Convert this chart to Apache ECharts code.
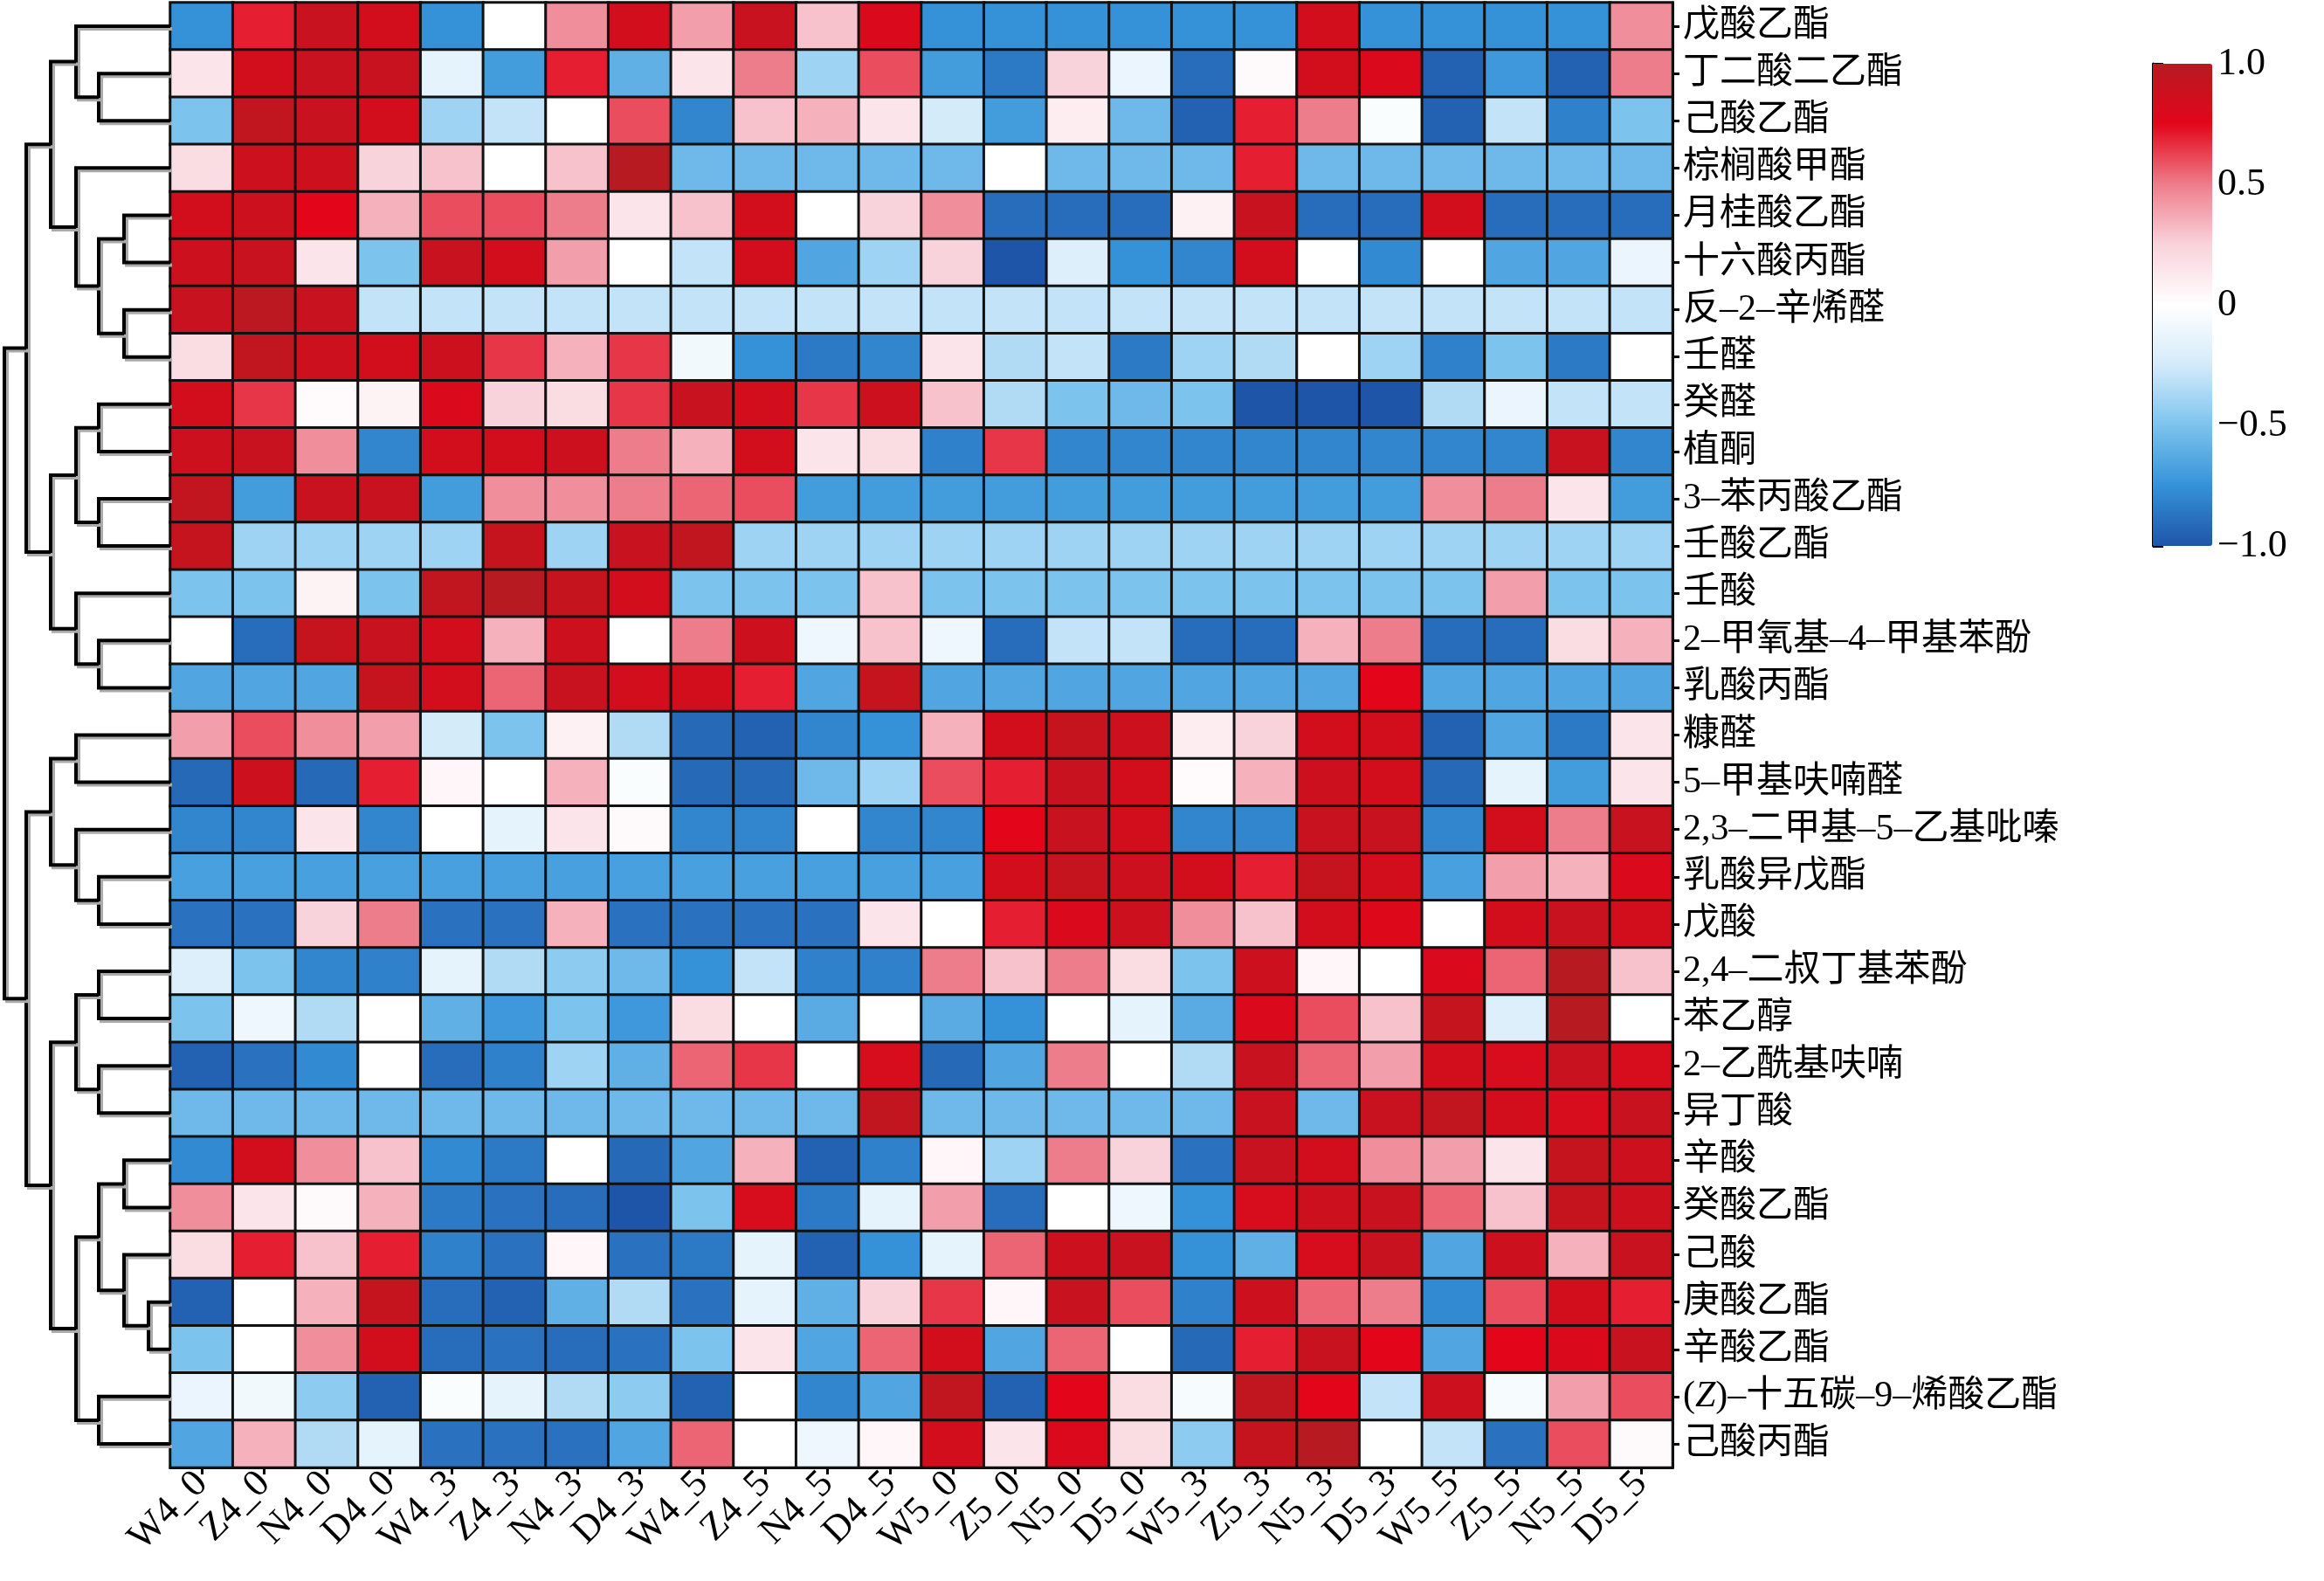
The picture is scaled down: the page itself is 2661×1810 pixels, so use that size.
<!DOCTYPE html>
<html><head><meta charset="utf-8">
<script src="https://cdn.jsdelivr.net/npm/echarts@6/dist/echarts.min.js"></script>
<style>html,body{margin:0;padding:0;background:#fff}#c{width:2661px;height:1810px}</style>
</head><body><div id="c"></div>
<script>
const columns = ['W4_0','Z4_0','N4_0','D4_0','W4_3','Z4_3','N4_3','D4_3','W4_5','Z4_5','N4_5','D4_5','W5_0','Z5_0','N5_0','D5_0','W5_3','Z5_3','N5_3','D5_3','W5_5','Z5_5','N5_5','D5_5'];
const rows = ['戊酸乙酯','丁二酸二乙酯','己酸乙酯','棕榈酸甲酯','月桂酸乙酯','十六酸丙酯','反–2–辛烯醛','壬醛','癸醛','植酮','3–苯丙酸乙酯','壬酸乙酯','壬酸','2–甲氧基–4–甲基苯酚','乳酸丙酯','糠醛','5–甲基呋喃醛','2,3–二甲基–5–乙基吡嗪','乳酸异戊酯','戊酸','2,4–二叔丁基苯酚','苯乙醇','2–乙酰基呋喃','异丁酸','辛酸','癸酸乙酯','己酸','庚酸乙酯','辛酸乙酯','(Z)–十五碳–9–烯酸乙酯','己酸丙酯'];
const values = [
[-0.75,0.7,0.9,0.85,-0.75,0,0.45,0.85,0.4,0.9,0.3,0.8, -0.75,-0.75,-0.75,-0.75,-0.75,-0.75,0.85,-0.75,-0.75,-0.75,-0.75,0.45],
[0.15,0.85,0.9,0.9,-0.15,-0.7,0.7,-0.6,0.15,0.5,-0.4,0.6, -0.7,-0.85,0.25,-0.12,-0.9,0.03,0.85,0.8,-0.95,-0.72,-0.95,0.5],
[-0.5,0.95,0.9,0.85,-0.4,-0.3,0,0.6,-0.8,0.3,0.35,0.15, -0.25,-0.7,0.1,-0.55,-0.95,0.7,0.5,-0.03,-0.95,-0.3,-0.82,-0.5],
[0.2,0.88,0.88,0.25,0.3,0,0.3,1.0,-0.55,-0.55,-0.55,-0.55, -0.55,0,-0.55,-0.55,-0.55,0.7,-0.55,-0.55,-0.55,-0.55,-0.55,-0.55],
[0.85,0.88,0.75,0.35,0.6,0.6,0.5,0.15,0.3,0.85,0,0.25, 0.45,-0.9,-0.9,-0.9,0.08,0.9,-0.9,-0.9,0.85,-0.9,-0.9,-0.9],
[0.88,0.9,0.15,-0.5,0.9,0.85,0.4,0,-0.3,0.85,-0.65,-0.4, 0.25,-1.0,-0.2,-0.75,-0.8,0.85,0,-0.78,0,-0.65,-0.65,-0.12],
[0.9,0.98,0.9,-0.3,-0.3,-0.3,-0.3,-0.3,-0.3,-0.3,-0.3,-0.3, -0.3,-0.3,-0.3,-0.3,-0.3,-0.3,-0.3,-0.3,-0.3,-0.3,-0.3,-0.3],
[0.2,0.95,0.88,0.85,0.88,0.65,0.35,0.65,-0.08,-0.75,-0.85,-0.8, 0.15,-0.35,-0.3,-0.85,-0.4,-0.35,0,-0.4,-0.82,-0.5,-0.85,0],
[0.85,0.65,0.02,0.07,0.8,0.25,0.2,0.65,0.9,0.85,0.65,0.88, 0.3,-0.35,-0.5,-0.55,-0.5,-1.0,-1.0,-1.0,-0.35,-0.12,-0.3,-0.3],
[0.88,0.9,0.45,-0.8,0.85,0.85,0.88,0.5,0.35,0.85,0.15,0.2, -0.82,0.65,-0.8,-0.8,-0.8,-0.8,-0.8,-0.8,-0.8,-0.8,0.9,-0.8],
[0.95,-0.7,0.9,0.9,-0.7,0.45,0.45,0.5,0.55,0.6,-0.7,-0.7, -0.7,-0.7,-0.7,-0.7,-0.7,-0.7,-0.7,-0.7,0.45,0.5,0.15,-0.7],
[0.92,-0.4,-0.4,-0.4,-0.4,0.92,-0.4,0.9,0.95,-0.4,-0.4,-0.4, -0.4,-0.4,-0.4,-0.4,-0.4,-0.4,-0.4,-0.4,-0.4,-0.4,-0.4,-0.4],
[-0.5,-0.5,0.07,-0.5,0.95,1.0,0.92,0.85,-0.5,-0.5,-0.5,0.3, -0.5,-0.5,-0.5,-0.5,-0.5,-0.5,-0.5,-0.5,-0.5,0.4,-0.5,-0.5],
[0,-0.9,0.92,0.9,0.85,0.35,0.88,0,0.5,0.88,-0.1,0.3, -0.1,-0.9,-0.3,-0.3,-0.9,-0.9,0.35,0.5,-0.9,-0.9,0.2,0.35],
[-0.65,-0.65,-0.65,0.92,0.85,0.55,0.9,0.85,0.85,0.7,-0.65,0.92, -0.65,-0.65,-0.65,-0.65,-0.65,-0.65,-0.65,0.75,-0.65,-0.65,-0.65,-0.65],
[0.4,0.6,0.45,0.4,-0.25,-0.5,0.08,-0.35,-0.92,-0.95,-0.8,-0.75, 0.35,0.85,0.92,0.88,0.1,0.25,0.85,0.85,-0.95,-0.65,-0.85,0.15],
[-0.92,0.88,-0.92,0.7,0.05,0,0.35,-0.03,-0.92,-0.92,-0.55,-0.4, 0.6,0.7,0.9,0.85,0.02,0.35,0.88,0.85,-0.92,-0.15,-0.7,0.15],
[-0.8,-0.8,0.15,-0.8,0,-0.15,0.15,0.03,-0.8,-0.8,0,-0.8, -0.8,0.75,0.9,0.85,-0.8,-0.8,0.9,0.9,-0.8,0.85,0.5,0.9],
[-0.68,-0.68,-0.68,-0.68,-0.68,-0.68,-0.68,-0.68,-0.68,-0.68,-0.68,-0.68, -0.68,0.85,0.92,0.88,0.85,0.7,0.92,0.85,-0.68,0.4,0.35,0.8],
[-0.88,-0.88,0.25,0.5,-0.88,-0.88,0.35,-0.88,-0.88,-0.88,-0.88,0.15, 0,0.7,0.8,0.88,0.45,0.3,0.85,0.78,0,0.85,0.9,0.85],
[-0.2,-0.5,-0.8,-0.82,-0.15,-0.35,-0.45,-0.55,-0.75,-0.3,-0.82,-0.82, 0.5,0.3,0.5,0.2,-0.5,0.88,0.05,0,0.8,0.55,1.0,0.3],
[-0.5,-0.1,-0.35,0,-0.6,-0.72,-0.5,-0.72,0.2,0,-0.62,0, -0.62,-0.75,0,-0.15,-0.62,0.8,0.6,0.3,0.92,-0.2,1.0,0],
[-0.95,-0.88,-0.78,0,-0.9,-0.82,-0.4,-0.6,0.55,0.65,0,0.82, -0.92,-0.65,0.5,0,-0.35,0.9,0.55,0.4,0.85,0.82,0.9,0.82],
[-0.55,-0.55,-0.55,-0.55,-0.55,-0.55,-0.55,-0.55,-0.55,-0.55,-0.55,0.95, -0.55,-0.55,-0.55,-0.55,-0.55,0.9,-0.55,0.9,0.95,0.85,0.82,0.9],
[-0.78,0.85,0.45,0.3,-0.78,-0.85,0,-0.92,-0.65,0.35,-0.95,-0.82, 0.05,-0.4,0.5,0.25,-0.88,0.9,0.85,0.45,0.4,0.15,0.92,0.88],
[0.45,0.15,0.03,0.35,-0.85,-0.88,-0.9,-1.0,-0.5,0.82,-0.85,-0.15, 0.4,-0.9,0,-0.1,-0.75,0.82,0.88,0.9,0.55,0.3,0.92,0.88],
[0.2,0.7,0.3,0.7,-0.82,-0.88,0.05,-0.88,-0.85,-0.15,-0.95,-0.75, -0.15,0.55,0.88,0.9,-0.75,-0.6,0.82,0.9,-0.65,0.88,0.35,0.9],
[-0.95,0,0.35,0.92,-0.9,-0.95,-0.6,-0.35,-0.88,-0.15,-0.6,0.25, 0.65,0.05,0.9,0.6,-0.82,0.88,0.55,0.5,-0.78,0.6,0.85,0.7],
[-0.5,0,0.45,0.85,-0.9,-0.88,-0.9,-0.88,-0.5,0.15,-0.65,0.55, 0.85,-0.65,0.55,0,-0.92,0.7,0.9,0.75,-0.65,0.75,0.8,0.9],
[-0.12,-0.08,-0.45,-0.95,-0.03,-0.15,-0.35,-0.45,-0.95,0,-0.8,-0.65, 0.95,-0.95,0.75,0.2,-0.05,0.95,0.75,-0.3,0.88,-0.05,0.4,0.6],
[-0.65,0.35,-0.35,-0.15,-0.88,-0.88,-0.88,-0.65,0.55,0,-0.1,0.05, 0.85,0.15,0.8,0.2,-0.45,0.92,1.0,0,-0.3,-0.88,0.6,0.03]
];
// dendrogram merges: [left, right, height]; numbers = leaf rows, 'nK' = K-th merge
const merges = [
[1,2,82],['n0',0,0],[4,5,53],[6,7,53],['n2','n3',82],[3,'n4',108],
[0,'n0',108],['n6','n5',137],
[8,9,82],[10,11,82],['n8','n9',108],[13,14,82],[12,'n11',108],['n10','n12',137],
['n7','n13',165],
[15,16,108],[18,19,82],[17,'n16',108],['n15','n17',137],
[20,21,82],[22,23,82],['n19','n20',108],
[24,25,53],[27,28,25],[26,'n23',53],['n22','n24',82],[29,30,82],['n25','n26',108],['n21','n27',137],
['n18','n28',165],
['n14','n29',190]
];
const colorTicks = [-1,-0.5,0,0.5,1];

const FONT = "'Liberation Serif','Noto Sans CJK SC',serif";
const heat = [];
values.forEach((r,i)=>r.forEach((v,j)=>heat.push([j,i,v])));

const nodes = {};
const lines = [];
merges.forEach((m,k)=>{
  if(m[2]===0) return;
  const get = a => typeof a==='number' ? {y:a,h:0} : nodes[a];
  const L=get(m[0]), R=get(m[1]);
  nodes['n'+k]={y:(L.y+R.y)/2,h:m[2]};
  lines.push({coords:[[L.h,L.y],[m[2],L.y],[m[2],R.y],[R.h,R.y]]});
});

const chart = echarts.init(document.getElementById('c'));
chart.setOption({
  animation:false,
  textStyle:{fontFamily:FONT},
  grid:[
    {left:195,top:3,width:1720,height:1677},
    {left:0,top:3,width:195,height:1677},
    {left:2465,top:73,width:68,height:552}
  ],
  xAxis:[
    {type:'category',data:columns,gridIndex:0,axisTick:{show:true,alignWithLabel:true,interval:0,length:8,lineStyle:{color:'#000',width:3}},axisLine:{lineStyle:{color:'#000',width:3}},
     axisLabel:{rotate:45,interval:0,fontSize:44,color:'#000',fontFamily:FONT,margin:12}},
    {type:'value',gridIndex:1,min:0,max:195,inverse:true,show:false},
    {type:'value',gridIndex:2,show:false,min:0,max:1}
  ],
  yAxis:[
    {type:'category',data:rows,gridIndex:0,inverse:true,position:'right',axisTick:{show:true,alignWithLabel:true,interval:0,length:8,lineStyle:{color:'#000',width:3}},axisLine:{lineStyle:{color:'#000',width:3}},
     axisLabel:{interval:0,fontSize:42,color:'#000',fontFamily:FONT,margin:12,
       formatter:v=>v.startsWith('(Z)')?'({i|Z})'+v.slice(3):v,
       rich:{i:{fontStyle:'italic',fontSize:42,fontFamily:FONT}}}},
    {type:'value',gridIndex:1,min:-0.5,max:30.5,inverse:true,show:false},
    {type:'value',gridIndex:2,min:-1,max:1,interval:0.5,position:'right',
     axisLine:{show:true,lineStyle:{color:'#000',width:3}},axisTick:{show:true,length:12,inside:false,lineStyle:{color:'#000',width:3}},
     splitLine:{show:false},
     axisLabel:{fontSize:44,color:'#000',fontFamily:FONT,margin:6,formatter:v=>{
       if(v===0) return '0'; const s=Math.abs(v).toFixed(1); return v<0?'−'+s:s;}}}
  ],
  visualMap:{type:'continuous',min:-1,max:1,seriesIndex:0,calculable:false,showLabel:false,text:null,
    left:2465,top:73,itemWidth:68,itemHeight:552,padding:0,
    inRange:{color:['#1f55a8','#3592d8','#7cc3ee','#d4ebfa','#ffffff','#f9d3dc','#ee7d8b','#e3061a','#b81a22']}},
  series:[
    {type:'heatmap',xAxisIndex:0,yAxisIndex:0,data:heat,itemStyle:{borderColor:'#111',borderWidth:3},emphasis:{disabled:true}},
    {type:'lines',coordinateSystem:'cartesian2d',xAxisIndex:1,yAxisIndex:1,polyline:true,data:lines,
     lineStyle:{color:'#000',width:4,opacity:1,shadowColor:'#aaa',shadowOffsetX:3,shadowOffsetY:3,shadowBlur:0}},
    {type:'scatter',xAxisIndex:2,yAxisIndex:2,data:colorTicks.map(t=>[0.5,t]),symbolSize:0,silent:true}
  ]
});
</script></body></html>
